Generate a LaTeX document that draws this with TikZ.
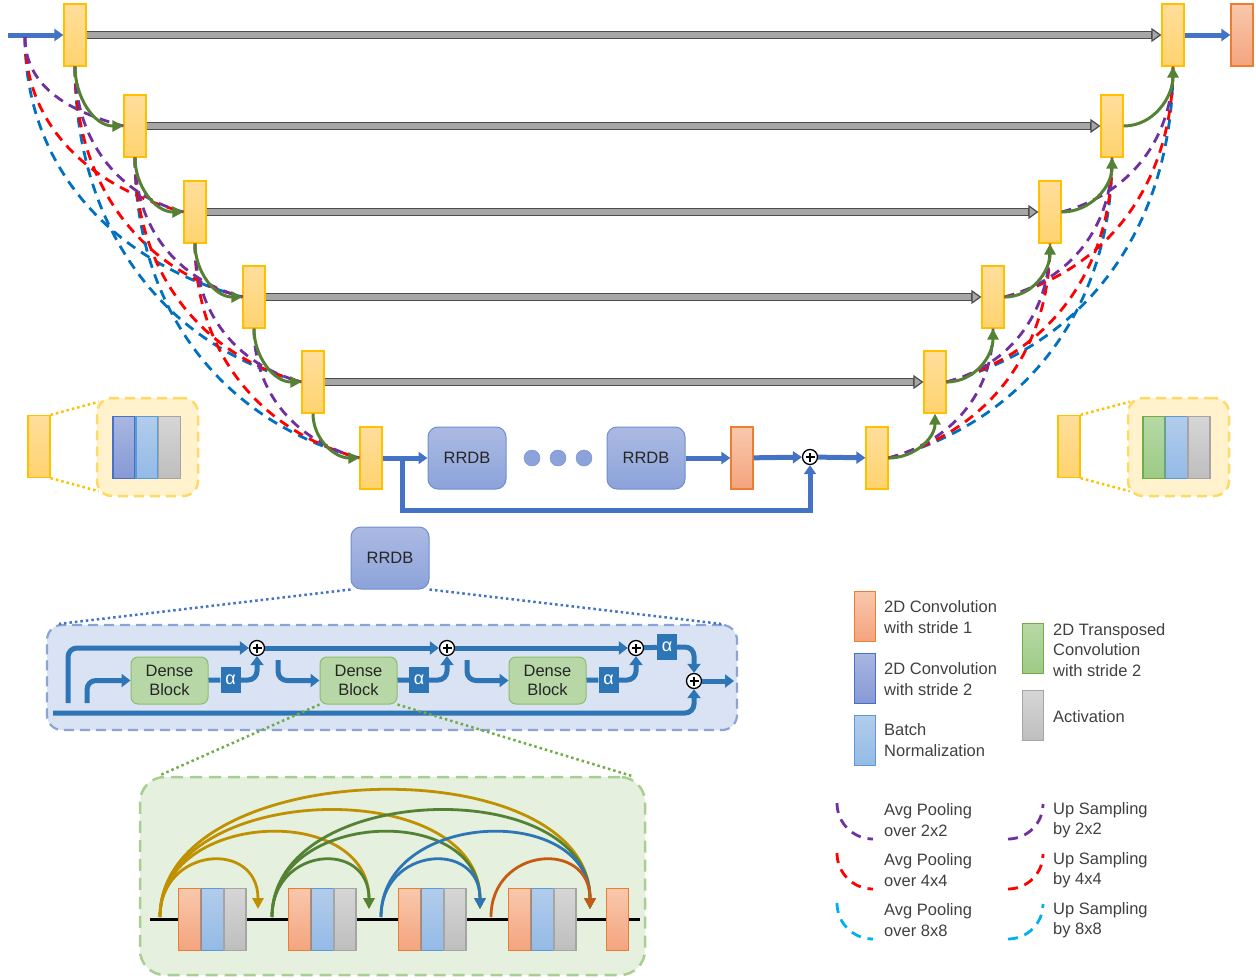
\documentclass[tikz,border=0pt]{standalone}
\usepackage{fontspec}
\setmainfont{Liberation Sans}
\usepackage{xcolor}
\usetikzlibrary{arrows.meta}

\definecolor{yeltop}{HTML}{FFDE9C}
\definecolor{yelbot}{HTML}{FFD36E}
\definecolor{yelline}{HTML}{FFC000}
\definecolor{orgtop}{HTML}{F8C8AC}
\definecolor{orgbot}{HTML}{F4A47E}
\definecolor{orgline}{HTML}{ED7D31}
\definecolor{cvtop}{HTML}{A8B6E0}
\definecolor{cvbot}{HTML}{8799D6}
\definecolor{cvline}{HTML}{4472C4}
\definecolor{bntop}{HTML}{B2CCEB}
\definecolor{bnbot}{HTML}{93BAE6}
\definecolor{bnline}{HTML}{5B9BD5}
\definecolor{actop}{HTML}{D6D6D6}
\definecolor{acbot}{HTML}{BEBEBE}
\definecolor{acline}{HTML}{A5A5A5}
\definecolor{tctop}{HTML}{B7D8A6}
\definecolor{tcbot}{HTML}{9CCB85}
\definecolor{tcline}{HTML}{70AD47}
\definecolor{topblue}{HTML}{4472C4}
\definecolor{panelblue}{HTML}{2E75B6}
\definecolor{rrtop}{HTML}{ABBAE3}
\definecolor{rrbot}{HTML}{8CA3D9}
\definecolor{rrline}{HTML}{6E8ED2}
\definecolor{curvegreen}{HTML}{548235}
\definecolor{poolpurple}{HTML}{7030A0}
\definecolor{poolred}{HTML}{FF0000}
\definecolor{poolblue}{HTML}{0070C0}
\definecolor{legcyan}{HTML}{00B0F0}
\definecolor{arcgold}{HTML}{BF9000}
\definecolor{arcorange}{HTML}{C55A11}
\definecolor{txtdark}{HTML}{262626}
\definecolor{txtgray}{HTML}{404040}

\begin{document}
\begin{tikzpicture}[
    x=1pt, y=1pt,
    bar/.style={minimum width=22pt, minimum height=62pt, inner sep=0pt, line width=1.2pt},
    yblock/.style={bar, draw=yelline, top color=yeltop, bottom color=yelbot},
    oblock/.style={bar, draw=orgline, top color=orgtop, bottom color=orgbot},
    cvbar/.style={bar, draw=cvline, top color=cvtop, bottom color=cvbot},
    bnbar/.style={bar, draw=bnline, top color=bntop, bottom color=bnbot},
    acbar/.style={bar, draw=acline, top color=actop, bottom color=acbot},
    tcbar/.style={bar, draw=tcline, top color=tctop, bottom color=tcbot},
    lgbar/.style={minimum width=21pt, minimum height=50pt},
    rrdbbox/.style={draw=rrline, line width=1pt, top color=rrtop, bottom color=rrbot, rounded corners=10pt, minimum width=78pt, minimum height=62pt, font=\fontsize{16.5}{20}\selectfont, text=txtdark},
    dotbox/.style={circle, draw=rrline, fill=rrbot, minimum size=16pt, inner sep=0pt},
    densebox/.style={draw=tcline!80, line width=1pt, fill=tctop, rounded corners=7pt, minimum width=77pt, minimum height=47pt, align=center, font=\fontsize{16.5}{19.5}\selectfont, text=txtdark},
    alphabox/.style={fill=panelblue, minimum width=20pt, minimum height=26pt, inner sep=0pt, text=white, font=\fontsize{18}{18}\selectfont},
    addop/.style={circle, draw, line width=1.3pt, fill=white, minimum size=15pt, inner sep=0pt,
        path picture={\draw[line width=2.2pt] ([xshift=-4.5pt]path picture bounding box.center) -- ([xshift=4.5pt]path picture bounding box.center) ([yshift=-4.5pt]path picture bounding box.center) -- ([yshift=4.5pt]path picture bounding box.center);}},
    mainarrow/.style={draw=topblue, line width=5pt, -{Triangle[length=9pt,width=12pt]}},
    flow/.style={draw=panelblue, line width=5pt, rounded corners=9pt, -{Triangle[length=9pt,width=13pt]}},
    grayarrow/.style={draw=black!70, line width=8pt, -{Triangle[length=10pt,width=14pt,line width=1.2pt,fill=gray!70]},
        postaction={draw=gray!70, line width=5.4pt, -, shorten >=10pt}},
    greencurve/.style={draw=curvegreen, line width=3pt, -{Triangle[length=11pt,width=11pt]}},
    dashcurve/.style={line width=2.8pt, dash pattern=on 10pt off 7pt},
    pool2/.style={dashcurve, draw=poolpurple},
    pool4/.style={dashcurve, draw=poolred},
    pool8/.style={dashcurve, draw=poolblue},
    dotline/.style={line width=2.5pt, dash pattern=on 2.5pt off 3pt},
    yelpanel/.style={draw=yelline!60, fill=yelline!20, line width=2.5pt, dash pattern=on 10pt off 6pt, rounded corners=15pt, minimum width=101pt, minimum height=98pt},
    bluepanel/.style={draw=rrbot, fill=cvline!20, line width=2.2pt, dash pattern=on 10pt off 6pt, rounded corners=15pt, minimum width=690pt, minimum height=105pt},
    greenpanel/.style={draw=tcline!60, fill=tcline!18, line width=2.5pt, dash pattern=on 12pt off 7pt, rounded corners=25pt, minimum width=505pt, minimum height=198pt},
    arcline/.style={line width=2.8pt, -{Triangle[length=11pt,width=11pt]}},
    legtext/.style={anchor=west, align=left, inner sep=0pt, font=\fontsize{16.5}{20.5}\selectfont, text=txtgray}
]
\useasboundingbox (0,0) rectangle (1256,-980);

\node[yblock] (e0) at (75,-35) {};
\node[yblock] (e1) at (135,-126) {};
\node[yblock] (e2) at (195,-212) {};
\node[yblock] (e3) at (254,-297) {};
\node[yblock] (e4) at (313,-382) {};
\node[yblock] (e5) at (371,-458) {};
\node[yblock] (d5) at (877,-458) {};
\node[yblock] (d4) at (935,-382) {};
\node[yblock] (d3) at (993,-297) {};
\node[yblock] (d2) at (1050,-212) {};
\node[yblock] (d1) at (1112,-126) {};
\node[yblock] (d0) at (1173,-35) {};
\node[oblock] (outc) at (1242,-35) {};
\coordinate (inp) at (8,-35);
\coordinate (tap) at (25,-37);

\draw[mainarrow] (inp) -- (e0);
\draw[mainarrow] (d0) -- (outc);
\draw[grayarrow] (e0) -- (d0);
\draw[grayarrow] (e1) -- (d1);
\draw[grayarrow] (e2) -- (d2);
\draw[grayarrow] (e3) -- (d3);
\draw[grayarrow] (e4) -- (d4);

\draw[pool8] (tap) to[out=-90,in=165] (e3.west);
\draw[pool4] (tap) to[out=-90,in=165] (e2.west);
\draw[pool2] (tap) to[out=-90,in=165] (e1.west);
\draw[pool8] (e0.south) to[out=-90,in=165] (e4.west);
\draw[pool4] (e0.south) to[out=-90,in=165] (e3.west);
\draw[pool2] (e0.south) to[out=-90,in=165] (e2.west);
\draw[pool8] (e1.south) to[out=-90,in=165] (e5.west);
\draw[pool4] (e1.south) to[out=-90,in=165] (e4.west);
\draw[pool2] (e1.south) to[out=-90,in=165] (e3.west);
\draw[pool4] (e2.south) to[out=-90,in=165] (e5.west);
\draw[pool2] (e2.south) to[out=-90,in=165] (e4.west);
\draw[pool2] (e3.south) to[out=-90,in=165] (e5.west);

\draw[pool8] (d5.east) to[out=15,in=-90] (d1.south);
\draw[pool4] (d5.east) to[out=15,in=-90] (d2.south);
\draw[pool2] (d5.east) to[out=15,in=-90] (d3.south);
\draw[pool8] (d4.east) to[out=15,in=-90] (d0.south);
\draw[pool4] (d4.east) to[out=15,in=-90] (d1.south);
\draw[pool2] (d4.east) to[out=15,in=-90] (d2.south);
\draw[pool4] (d3.east) to[out=15,in=-90] (d0.south);
\draw[pool2] (d3.east) to[out=15,in=-90] (d1.south);
\draw[pool2] (d2.east) to[out=15,in=-90] (d0.south);

\draw[greencurve] (e0.south) to[out=-90,in=180] (e1.west);
\draw[greencurve] (e1.south) to[out=-90,in=180] (e2.west);
\draw[greencurve] (e2.south) to[out=-90,in=180] (e3.west);
\draw[greencurve] (e3.south) to[out=-90,in=180] (e4.west);
\draw[greencurve] (e4.south) to[out=-90,in=180] (e5.west);
\draw[greencurve] (d5.east) to[out=0,in=-90] (d4.south);
\draw[greencurve] (d4.east) to[out=0,in=-90] (d3.south);
\draw[greencurve] (d3.east) to[out=0,in=-90] (d2.south);
\draw[greencurve] (d2.east) to[out=0,in=-90] (d1.south);
\draw[greencurve] (d1.east) to[out=0,in=-90] (d0.south);

\node[rrdbbox] (r1) at (467,-458) {RRDB};
\node[dotbox] (dot1) at (532,-458) {};
\node[dotbox] (dot2) at (558,-458) {};
\node[dotbox] (dot3) at (584,-458) {};
\node[rrdbbox] (r2) at (646,-458) {RRDB};
\node[oblock] (oc) at (742,-458) {};
\node[addop] (sum) at (810,-457) {};
\coordinate (skip) at (402,-458);
\draw[mainarrow] (e5) -- (r1);
\draw[mainarrow] (r2) -- (oc);
\draw[mainarrow] (oc) -- (sum);
\draw[mainarrow] (sum) -- (d5);
\draw[mainarrow] (skip) -- ++(0,-52) -| (sum.south);

\node[yblock] (lz) at (39,-446.5) {};
\node[yelpanel] (lp) at (147.5,-447) {};
\node[cvbar] (lcv) at (124,-447.5) {};
\node[bnbar] (lbn) at (147,-447.5) {};
\node[acbar] (lac) at (169.5,-447.5) {};
\draw[dotline, draw=yelline] (lz.north east) -- ([xshift=3pt,yshift=-5pt]lp.north west);
\draw[dotline, draw=yelline] (lz.south east) -- ([xshift=3pt,yshift=6pt]lp.south west);

\node[yblock] (rz) at (1069,-446.5) {};
\node[yelpanel] (rp) at (1178.5,-447) {};
\node[tcbar] (rtc) at (1154,-447.5) {};
\node[bnbar] (rbn) at (1176.5,-447.5) {};
\node[acbar] (rac) at (1199,-447.5) {};
\draw[dotline, draw=yelline] (rz.north east) -- ([xshift=3pt,yshift=-5pt]rp.north west);
\draw[dotline, draw=yelline] (rz.south east) -- ([xshift=3pt,yshift=6pt]rp.south west);

\node[rrdbbox] (rr) at (390,-558) {RRDB};
\node[bluepanel] (bp) at (392,-677.5) {};
\draw[dotline, draw=topblue] (rr.south west) -- ([xshift=13pt]bp.north west);
\draw[dotline, draw=topblue] (rr.south east) -- ([xshift=-17pt]bp.north east);

\node[densebox] (db1) at (169.5,-680.5) {Dense\\Block};
\node[densebox] (db2) at (358.5,-680.5) {Dense\\Block};
\node[densebox] (db3) at (547.5,-680.5) {Dense\\Block};
\node[alphabox] (a1) at (230.5,-680) {α};
\node[alphabox] (a2) at (419,-680) {α};
\node[alphabox] (a3) at (608.5,-680) {α};
\node[alphabox] (a4) at (667,-647) {α};
\node[addop] (s1) at (257,-648) {};
\node[addop] (s2) at (447,-648) {};
\node[addop] (s3) at (636,-648) {};
\node[addop] (s4) at (694,-681) {};
\coordinate (bin) at (53,-713);
\coordinate (up1) at (68,-703);
\coordinate (up2) at (87,-703);
\coordinate (br1) at (278,-660);
\coordinate (br2) at (467,-660);
\coordinate (pout) at (734,-681);

\draw[flow] (bin) -| (s4.south);
\draw[flow] (up1) |- (s1.west);
\draw[flow] (up2) |- (db1.west);
\draw[flow, -] (db1) -- (a1);
\draw[flow] (a1.east) -| (s1.south);
\draw[flow] (s1) -- (s2);
\draw[flow] (br1) |- (db2.west);
\draw[flow, -] (db2) -- (a2);
\draw[flow] (a2.east) -| (s2.south);
\draw[flow] (s2) -- (s3);
\draw[flow] (br2) |- (db3.west);
\draw[flow, -] (db3) -- (a3);
\draw[flow] (a3.east) -| (s3.south);
\draw[flow, -] (s3) -- (a4);
\draw[flow] (a4.east) -| (s4.north);
\draw[flow] (s4) -- (pout);

\node[greenpanel] (gp) at (392.5,-876) {};
\draw[dotline, draw=tcline] (db2.south west) -- ([xshift=20pt]gp.north west);
\draw[dotline, draw=tcline] (db2.south east) -- ([xshift=-15pt]gp.north east);
\coordinate (lin) at (150,-919);
\coordinate (lout) at (640,-919);
\draw[line width=3pt] (lin) -- (lout);

\node[oblock] (o1) at (189.5,-919.5) {};
\node[bnbar] (n1) at (212.5,-919.5) {};
\node[acbar] (g1) at (235,-919.5) {};
\node[oblock] (o2) at (299.5,-919.5) {};
\node[bnbar] (n2) at (322.5,-919.5) {};
\node[acbar] (g2) at (345,-919.5) {};
\node[oblock] (o3) at (409.5,-919.5) {};
\node[bnbar] (n3) at (432.5,-919.5) {};
\node[acbar] (g3) at (455,-919.5) {};
\node[oblock] (o4) at (519.5,-919.5) {};
\node[bnbar] (n4) at (542.5,-919.5) {};
\node[acbar] (g4) at (565,-919.5) {};
\node[oblock] (o5) at (617.5,-919.5) {};

\coordinate (ga) at (160,-917);
\coordinate (gg) at (272,-917);
\coordinate (gb) at (381,-917);
\coordinate (go) at (491,-917);
\coordinate (t1) at (258,-909);
\coordinate (t2) at (369,-909);
\coordinate (t3) at (480,-909);
\coordinate (t4) at (590,-909);
\draw[arcline, draw=arcgold] (ga) .. controls +(0,163) and +(0,163) .. (t4);
\draw[arcline, draw=arcgold] (ga) .. controls +(0,136) and +(0,136) .. (t3);
\draw[arcline, draw=arcgold] (ga) .. controls +(0,107) and +(0,107) .. (t2);
\draw[arcline, draw=arcgold] (ga) .. controls +(0,70) and +(0,70) .. (t1);
\draw[arcline, draw=curvegreen] (gg) .. controls +(0,136) and +(0,136) .. (t4);
\draw[arcline, draw=curvegreen] (gg) .. controls +(0,107) and +(0,107) .. (t3);
\draw[arcline, draw=curvegreen] (gg) .. controls +(0,70) and +(0,70) .. (t2);
\draw[arcline, draw=panelblue] (gb) .. controls +(0,107) and +(0,107) .. (t4);
\draw[arcline, draw=panelblue] (gb) .. controls +(0,70) and +(0,70) .. (t3);
\draw[arcline, draw=arcorange] (go) .. controls +(0,70) and +(0,70) .. (t4);

\node[lgbar, draw=orgline, top color=orgtop, bottom color=orgbot] (lg1) at (864.5,-616) {};
\node[lgbar, draw=cvline, top color=cvtop, bottom color=cvbot] (lg2) at (864.5,-678) {};
\node[lgbar, draw=bnline, top color=bntop, bottom color=bnbot] (lg3) at (864.5,-740.5) {};
\node[lgbar, draw=tcline, top color=tctop, bottom color=tcbot] (lg4) at (1033,-648.5) {};
\node[lgbar, draw=acline, top color=actop, bottom color=acbot] (lg5) at (1033,-715.5) {};
\node[legtext] (lt1) at (884,-617) {2D Convolution\\with stride 1};
\node[legtext] (lt2) at (884,-679) {2D Convolution\\with stride 2};
\node[legtext] (lt3) at (884,-740) {Batch\\Normalization};
\node[legtext] (lt4) at (1053,-650) {2D Transposed\\Convolution\\with stride 2};
\node[legtext] (lt5) at (1053,-717) {Activation};

\draw[pool2] (837,-803) arc (180:270:36);
\draw[pool4] (837,-853) arc (180:270:36);
\draw[dashcurve, draw=legcyan] (837,-903) arc (180:270:36);
\draw[pool2] (1008,-839) arc (270:360:35);
\draw[pool4] (1008,-889) arc (270:360:35);
\draw[dashcurve, draw=legcyan] (1008,-939) arc (270:360:35);
\node[legtext] (lt6) at (884,-820) {Avg Pooling\\over 2x2};
\node[legtext] (lt7) at (884,-870) {Avg Pooling\\over 4x4};
\node[legtext] (lt8) at (884,-920) {Avg Pooling\\over 8x8};
\node[legtext] (lt9) at (1053,-820) {Up Sampling\\by 2x2};
\node[legtext] (lt10) at (1053,-870) {Up Sampling\\by 4x4};
\node[legtext] (lt11) at (1053,-920) {Up Sampling\\by 8x8};

\end{tikzpicture}
\end{document}
